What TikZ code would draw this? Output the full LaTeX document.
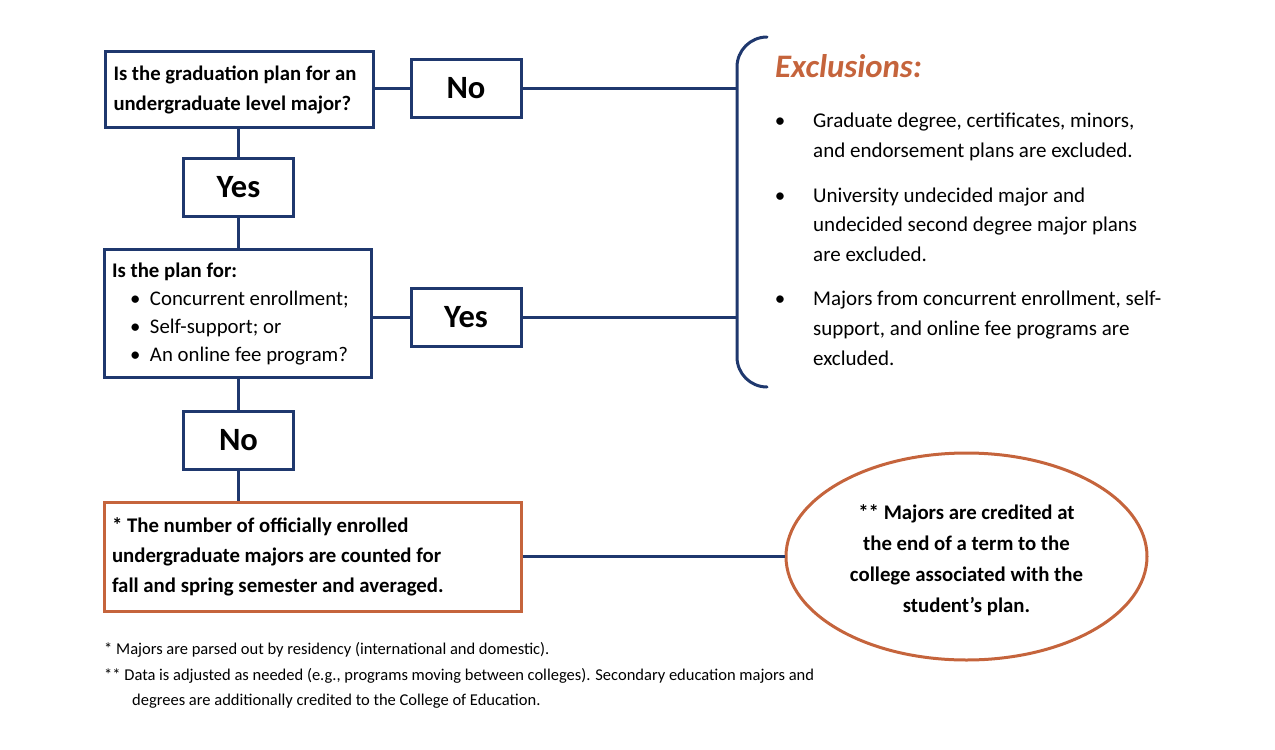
\documentclass[tikz,border=0pt]{standalone}
\usepackage{fontspec}
\setmainfont{Carlito}
\usetikzlibrary{shapes.geometric}
\definecolor{navy}{RGB}{31,56,110}
\definecolor{rust}{RGB}{197,100,60}
\begin{document}
\begin{tikzpicture}[x=1pt,y=-1pt,
  bluebox/.style={draw=navy,line width=3pt,fill=white,inner sep=0pt},
  rustbox/.style={draw=rust,line width=3pt,fill=white,inner sep=0pt},
  answer/.style={bluebox,minimum width=110pt,minimum height=58pt,font=\bfseries\fontsize{32.5}{32.5}\selectfont},
  link/.style={draw=navy,line width=3pt},
  txt/.style={anchor=west,inner sep=0pt,text height=14pt,text depth=5pt,font=\fontsize{21}{30}\selectfont},
  fntxt/.style={anchor=west,inner sep=0pt,text height=11pt,text depth=4pt,font=\fontsize{16.5}{25}\selectfont},
  dot/.style={anchor=center,inner sep=0pt,font=\fontsize{21}{30}\selectfont}]
\useasboundingbox (0,0) rectangle (1275,750);
% left column
\node[bluebox,minimum width=268pt,minimum height=76pt,text width=252pt,align=flush left,
  font=\bfseries\fontsize{20.7}{30}\selectfont] (q1) at (239.5,89.5)
  {Is the graduation plan for an\\undergraduate level major?};
\node[answer] (no1) at (466,88.5) {No};
\node[answer] (yes1) at (238.5,187) {Yes};
\node[bluebox,minimum width=267pt,minimum height=128pt,text width=251pt,align=flush left,
  font=\fontsize{20.8}{28}\selectfont] (q2) at (237.5,313)
  {\rule{0pt}{17pt}\textbf{Is the plan for:}\\\makebox[38pt][l]{\hspace{18pt}•}Concurrent enrollment;\\\makebox[38pt][l]{\hspace{18pt}•}Self-support; or\\\makebox[38pt][l]{\hspace{18pt}•}An online fee program?};
\node[answer] (yes2) at (466,317) {Yes};
\node[answer] (no2) at (238.5,440) {No};
\node[rustbox,minimum width=417pt,minimum height=109pt,text width=401pt,align=flush left,
  font=\bfseries\fontsize{20.8}{30}\selectfont] (q3) at (312.5,556.5)
  {* The number of officially enrolled\\undergraduate majors are counted for\\fall and spring semester and averaged.};
\node[ellipse,draw=rust,line width=3pt,fill=white,minimum width=361pt,minimum height=207pt,
  inner sep=0pt] (ell) at (966.5,556.5) {};
\node[align=center,inner sep=0pt,font=\bfseries\fontsize{20.8}{31}\selectfont] (ellt) at (966.5,560.5)
  {** Majors are credited at\\the end of a term to the\\college associated with the\\student’s plan.};
% brace
\coordinate (b1) at (737,89.5);
\coordinate (b2) at (737,315);
\draw[link,line cap=round] (767,37) .. controls (750.4,37) and (737,50.4) .. (737,67)
  -- (737,357) .. controls (737,373.6) and (750.4,387) .. (767,387);
% connectors
\draw[link] (q1.east |- no1.west) -- (no1.west);
\draw[link] (no1.east) -- (no1.east -| b1);
\draw[link] (yes1.north) -- (yes1.north |- q1.south);
\draw[link] (yes1.south) -- (yes1.south |- q2.north);
\draw[link] (q2.east |- yes2.west) -- (yes2.west);
\draw[link] (yes2.east) -- (yes2.east -| b2);
\draw[link] (no2.north) -- (no2.north |- q2.south);
\draw[link] (no2.south) -- (no2.south |- q3.north);
\draw[link] (q3.east |- ell.west) -- (ell.west);
% exclusions
\node[anchor=west,inner sep=0pt,text=rust,font=\bfseries\itshape\fontsize{32.8}{32.8}\selectfont] (excl) at (775,66) {Exclusions:};
\node[dot] (d1) at (780,123) {•};
\node[txt] (e1a) at (813,123) {Graduate degree, certificates, minors,};
\node[txt] (e1b) at (813,152.5) {and endorsement plans are excluded.};
\node[dot] (d2) at (780,197.5) {•};
\node[txt] (e2a) at (813,197.5) {University undecided major and};
\node[txt] (e2b) at (813,226.5) {undecided second degree major plans};
\node[txt] (e2c) at (813,256.5) {are excluded.};
\node[dot] (d3) at (780,300.5) {•};
\node[txt] (e3a) at (813,300.5) {Majors from concurrent enrollment, self-};
\node[txt] (e3b) at (813,330.5) {support, and online fee programs are};
\node[txt] (e3c) at (813,360.5) {excluded.};
% footnotes
\node[fntxt] (f1) at (104,651) {* Majors are parsed out by residency (international and domestic).};
\node[fntxt] (f2) at (104,677) {** Data is adjusted as needed (e.g., programs moving between colleges). Secondary education majors and};
\node[fntxt] (f3) at (132,702) {degrees are additionally credited to the College of Education.};
\end{tikzpicture}
\end{document}
